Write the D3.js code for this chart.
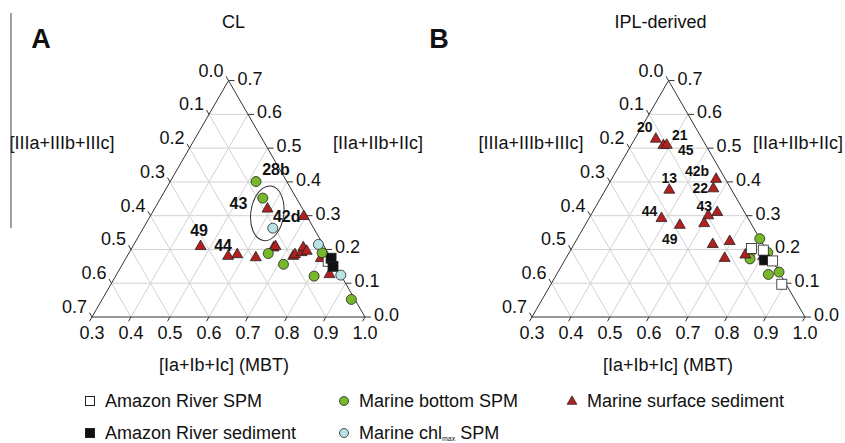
<!DOCTYPE html>
<html>
<head>
<meta charset="utf-8">
<script src="https://cdn.jsdelivr.net/npm/d3@7"></script>
<style>
  body { margin: 0; background: #fff; }
  text, tspan { font-family: Arial, "Liberation Sans", Helvetica, sans-serif; fill: #111; }
</style>
</head>
<body>
<svg id="chart" width="845" height="443"></svg>
<script>
// tick values of the three ternary axes
const ticksI = [0.3, 0.4, 0.5, 0.6, 0.7, 0.8, 0.9, 1.0];   // [Ia+Ib+Ic] (MBT), bottom
const ticksII = [0.0, 0.1, 0.2, 0.3, 0.4, 0.5, 0.6, 0.7];  // [IIa+IIb+IIc], right
const ticksIII = [0.0, 0.1, 0.2, 0.3, 0.4, 0.5, 0.6, 0.7]; // [IIIa+IIIb+IIIc], left

// points are [I, II]; III = 1 - I - II
// Panel A : CL
const clRiverSPM = [[0.823, 0.165]];
const clRiverSed = [[0.826, 0.174], [0.843, 0.150]];
const clBottomSPM = [[0.520, 0.401], [0.562, 0.352], [0.658, 0.188], [0.713, 0.156],
    [0.795, 0.190], [0.809, 0.121], [0.939, 0.052]];
const clChlSPM = [[0.632, 0.263], [0.773, 0.215], [0.876, 0.124]];
const clSurfSed = [[0.590, 0.320], [0.694, 0.298], [0.474, 0.209], [0.559, 0.180],
    [0.580, 0.185], [0.632, 0.176], [0.663, 0.205], [0.666, 0.209], [0.726, 0.180],
    [0.728, 0.185], [0.742, 0.191], [0.739, 0.2055], [0.753, 0.195], [0.800, 0.1735],
    [0.846, 0.126]];
const clLabels = ["28b", "43", "42d", "49", "44"];
const clLabelAnchors = [[0.520, 0.401], [0.590, 0.320], [0.632, 0.263], [0.474, 0.209], [0.559, 0.180]];
const clGroupCentre = [0.596, 0.307]; // circled samples

// Panel B : IPL-derived
const iplRiverSPM = [[0.761, 0.203], [0.794, 0.198], [0.834, 0.166], [0.892, 0.097]];
const iplRiverSed = [[0.812, 0.169]];
const iplBottomSPM = [[0.768, 0.232], [0.764, 0.191], [0.773, 0.172], [0.809, 0.191],
    [0.843, 0.126], [0.867, 0.133]];
const iplChlSPM = [];
const iplSurfSed = [[0.354, 0.527], [0.383, 0.508], [0.391, 0.509], [0.464, 0.376],
    [0.568, 0.408], [0.575, 0.380], [0.620, 0.310], [0.602, 0.300], [0.603, 0.277],
    [0.486, 0.292], [0.543, 0.272], [0.656, 0.215], [0.695, 0.224], [0.707, 0.174],
    [0.755, 0.184], [0.803, 0.179]];
const iplLabels = ["20", "21", "45", "13", "42b", "22", "43", "44", "49"];
const iplLabelAnchors = [[0.354, 0.527], [0.391, 0.509], [0.391, 0.509], [0.464, 0.376],
    [0.568, 0.408], [0.575, 0.380], [0.602, 0.300], [0.486, 0.292], [0.543, 0.272]];

const legendNames = ["Amazon River SPM", "Amazon River sediment", "Marine bottom SPM",
    "Marine chl", "Marine surface sediment"];

// styling
const colGreen = "#77b82a", colRed = "#b3201f", colBlue = "#b8e2e4";
const side = 273, triH = side * Math.sqrt(3) / 2;

const svg = d3.select("#chart");

function drawPanel(x0, y0, cfg) {
    // scales: I along the base, II up to the apex
    const sI = d3.scaleLinear().domain([0.3, 1.0]).range([0, side]);
    const sII = d3.scaleLinear().domain([0, 0.7]).range([0, 1]);
    const p = (I, II) => [x0 + sI(I) + sII(II) * side / 2, y0 - sII(II) * triH];
    const g = svg.append("g");
    const line = (a, b, col, w) => g.append("line")
        .attr("x1", a[0]).attr("y1", a[1]).attr("x2", b[0]).attr("y2", b[1])
        .attr("stroke", col).attr("stroke-width", w);

    // grid
    ticksII.slice(1, -1).forEach(v => line(p(0.3, v), p(1 - v, v), "#d2d2d2", 1));
    ticksI.slice(1, -1).forEach(v => line(p(v, 0), p(v, 1 - v), "#d2d2d2", 1));
    ticksIII.slice(1, -1).forEach(v => line(p(0.3, 0.7 - v), p(1 - v, 0), "#d2d2d2", 1));

    // frame
    g.append("path")
        .attr("d", d3.line()([p(0.3, 0), p(1, 0), p(0.3, 0.7)]) + "Z")
        .attr("fill", "none").attr("stroke", "#333").attr("stroke-width", 1);

    // ticks + labels
    ticksI.forEach(v => {
        const a = p(v, 0);
        line(a, [a[0] - 2.5, a[1] + 4.3], "#333", 1);
        g.append("text").attr("x", a[0]).attr("y", a[1] + 16)
            .attr("text-anchor", "middle").attr("dominant-baseline", "central")
            .attr("font-size", 18).text(v.toFixed(1));
    });
    ticksII.forEach(v => {
        const a = p(1 - v, v);
        line(a, [a[0] + 6, a[1]], "#333", 1);
        g.append("text").attr("x", a[0] + 9).attr("y", a[1] - 2)
            .attr("dominant-baseline", "central")
            .attr("font-size", 18).text(v.toFixed(1));
    });
    ticksIII.forEach(v => {
        const a = p(0.3, 0.7 - v);
        line(a, [a[0] - 2.5, a[1] - 4.3], "#333", 1);
        g.append("text").attr("x", a[0] - 5).attr("y", a[1] - 10)
            .attr("text-anchor", "end").attr("dominant-baseline", "central")
            .attr("font-size", 18).text(v.toFixed(1));
    });

    // axis titles
    const title = (x, y, t, size, weight) => g.append("text").attr("x", x).attr("y", y)
        .attr("text-anchor", "middle").attr("dominant-baseline", "central")
        .attr("font-size", size).attr("font-weight", weight || "normal").text(t);
    title(x0 + side / 2 + cfg.bottomDx, y0 + 48, "[Ia+Ib+Ic] (MBT)", 18);
    title(cfg.leftX, 143, "[IIIa+IIIb+IIIc]", 18);
    title(cfg.rightX, 143, "[IIa+IIb+IIc]", 18);
    title(x0 + side / 2 + cfg.titleDx, 22, cfg.title, 18);
    title(cfg.letterX, 39, cfg.letter, 27, "bold");

    if (cfg.ellipse) {
        const c = p(cfg.ellipse[0], cfg.ellipse[1]);
        g.append("ellipse").attr("cx", c[0]).attr("cy", c[1]).attr("rx", 16.5).attr("ry", 27.5)
            .attr("transform", `rotate(8,${c[0]},${c[1]})`)
            .attr("fill", "none").attr("stroke", "#333").attr("stroke-width", 1);
    }

    // marks
    const tri = d3.symbol().type(d3.symbolTriangle).size(52);
    const drawTri = data => g.append("g").selectAll("path").data(data).join("path")
        .attr("d", tri).attr("transform", d => `translate(${p(d[0], d[1])})`)
        .attr("fill", colRed).attr("stroke", "#222").attr("stroke-width", 0.8);
    const drawCirc = (data, col) => g.append("g").selectAll("circle").data(data).join("circle")
        .attr("cx", d => p(d[0], d[1])[0]).attr("cy", d => p(d[0], d[1])[1]).attr("r", 5)
        .attr("fill", col).attr("stroke", "#222").attr("stroke-width", 0.8);
    const drawSq = (data, col) => g.append("g").selectAll("rect").data(data).join("rect")
        .attr("x", d => p(d[0], d[1])[0] - 5).attr("y", d => p(d[0], d[1])[1] - 5)
        .attr("width", 10).attr("height", 10)
        .attr("fill", col).attr("stroke", "#222").attr("stroke-width", 0.8);

    cfg.order.forEach(k => {
        if (k === "tri") drawTri(cfg.surf);
        if (k === "green") drawCirc(cfg.bottom, colGreen);
        if (k === "blue") drawCirc(cfg.chl, colBlue);
        if (k === "white") drawSq(cfg.riverSPM, "#fff");
        if (k === "black") drawSq(cfg.riverSed, "#111");
    });

    // sample labels
    cfg.labels.forEach((t, i) => {
        const a = p(cfg.anchors[i][0], cfg.anchors[i][1]);
        g.append("text").attr("x", a[0] + cfg.offsets[i][0]).attr("y", a[1] + cfg.offsets[i][1])
            .attr("text-anchor", "middle").attr("dominant-baseline", "central")
            .attr("font-size", cfg.labelSize).attr("font-weight", "bold").text(t);
    });
}

drawPanel(92, 317, {
    title: "CL", titleDx: 5, letter: "A", letterX: 41, leftX: 62, rightX: 378, bottomDx: -4.5,
    surf: clSurfSed, bottom: clBottomSPM, chl: clChlSPM, riverSPM: clRiverSPM, riverSed: clRiverSed,
    order: ["tri", "white", "black", "green", "blue"],
    labels: clLabels, anchors: clLabelAnchors, labelSize: 16,
    offsets: [[20, -12], [-29, -5], [14, -12], [-1.5, -16], [-5, -11]],
    ellipse: clGroupCentre
});
drawPanel(532, 317, {
    title: "IPL-derived", titleDx: -8, letter: "B", letterX: 439, leftX: 531, rightX: 798, bottomDx: -0.5,
    surf: iplSurfSed, bottom: iplBottomSPM, chl: iplChlSPM, riverSPM: iplRiverSPM, riverSed: iplRiverSed,
    order: ["green", "tri", "black", "white"],
    labels: iplLabels, anchors: iplLabelAnchors, labelSize: 14,
    offsets: [[-11, -12], [13, -10.5], [19, 4.5], [0, -12], [-19, -8], [-13, -0.5], [-4, -10], [-12, -7], [-10, 14]]
});

// thin rule at the left of panel A
svg.append("line").attr("x1", 11).attr("y1", 13).attr("x2", 11).attr("y2", 228)
    .attr("stroke", "#444").attr("stroke-width", 1);

// legend
const lg = svg.append("g");
const rowY = [401, 433];
const lgItem = (x, y, name, kind) => {
    if (kind === "sqW" || kind === "sqB")
        lg.append("rect").attr("x", x - 4.5).attr("y", y - 4.5).attr("width", 9).attr("height", 9)
            .attr("fill", kind === "sqW" ? "#fff" : "#111").attr("stroke", "#222").attr("stroke-width", 1);
    if (kind === "cG" || kind === "cB")
        lg.append("circle").attr("cx", x).attr("cy", y).attr("r", 4.5)
            .attr("fill", kind === "cG" ? colGreen : colBlue).attr("stroke", "#222").attr("stroke-width", 0.8);
    if (kind === "tri")
        lg.append("path").attr("d", d3.symbol().type(d3.symbolTriangle).size(40)())
            .attr("transform", `translate(${x},${y + 0.5})`)
            .attr("fill", colRed).attr("stroke", "#222").attr("stroke-width", 0.8);
    const t = lg.append("text").attr("x", x + 15).attr("y", y)
        .attr("dominant-baseline", "central").attr("font-size", 18);
    t.append("tspan").text(name);
    if (name === "Marine chl") {
        t.append("tspan").attr("font-size", 7).attr("dy", 5).attr("fill", "#111").text("max");
        t.append("tspan").attr("dy", -5).text(" SPM");
    }
};
lgItem(90, rowY[0], legendNames[0], "sqW");
lgItem(90, rowY[1], legendNames[1], "sqB");
lgItem(344, rowY[0], legendNames[2], "cG");
lgItem(344, rowY[1], legendNames[3], "cB");
lgItem(572, rowY[0], legendNames[4], "tri");
</script>
</body>
</html>
